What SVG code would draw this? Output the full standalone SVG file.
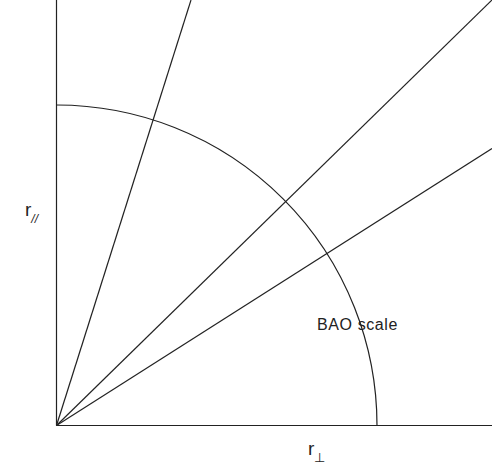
<svg xmlns="http://www.w3.org/2000/svg" width="492" height="472" viewBox="0 0 492 472">
<style>
.ln{stroke:#222;stroke-width:1.2;fill:none}
.t{font-family:"Liberation Sans",Arial,sans-serif;fill:#222}
</style>
<rect width="492" height="472" fill="#fff"/>
<g id="axes">
<line class="ln" x1="56.5" y1="0" x2="56.5" y2="425.5"/>
<line class="ln" x1="56.5" y1="425.5" x2="492" y2="425.5"/>
</g>
<g id="arc">
<path class="ln" d="M56.5,105 A320.5,320.5 0 0 1 377,425.5"/>
</g>
<g id="connectors">
<line class="ln" x1="56.5" y1="425.5" x2="191" y2="0"/>
<line class="ln" x1="56.5" y1="425.5" x2="492" y2="0"/>
<line class="ln" x1="56.5" y1="425.5" x2="492" y2="148.5"/>
</g>
<g id="label-bao">
<text class="t" x="317" y="329.5" font-size="16" letter-spacing="0.6" fill="#333">BAO scale</text>
</g>
<g id="label-rpar">
<text class="t" x="25" y="216" font-size="19">r<tspan font-size="12" font-style="italic" dy="7">//</tspan></text>
</g>
<g id="label-rperp">
<text class="t" x="308" y="455" font-size="19">r<tspan font-size="13" dy="7">⊥</tspan></text>
</g>
</svg>
